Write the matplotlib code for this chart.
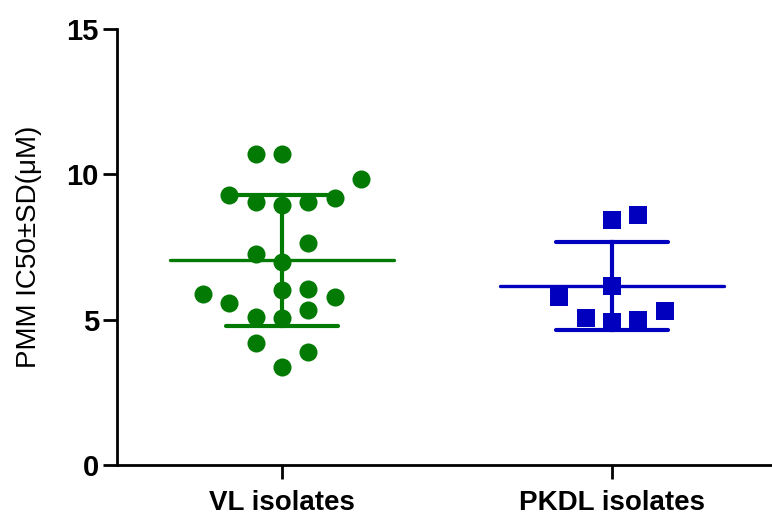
import numpy as np
import matplotlib.pyplot as plt

plt.rcParams['font.family'] = ['Liberation Sans', 'DejaVu Sans']

groups = ['VL isolates', 'PKDL isolates']
colors = ['#037A03', '#0000BE']

# PMM IC50 values, with the column slot each dot sits in
vl_vals = [10.70, 10.70, 9.83, 9.29, 9.06, 8.94, 9.06, 9.20, 7.63, 7.26, 6.99,
           6.02, 6.05, 5.87, 5.79, 5.56, 5.33, 5.10, 5.05, 4.19, 3.90, 3.38]
vl_slot = [-1, 0, 3, -2, -1, 0, 1, 2, 1, -1, 0,
           0, 1, -3, 2, -2, 1, -1, 0, -1, 1, 0]
pkdl_vals = [8.43, 8.60, 5.79, 6.16, 5.05, 4.93, 4.99, 5.31]
pkdl_slot = [0, 1, -2, 0, -1, 0, 1, 2]

slot_w = 0.08

fig = plt.figure(figsize=(7.72, 5.21), dpi=100)
ax = fig.add_axes([0.1516, 0.1075, 0.855, 0.837])

data = [(vl_vals, vl_slot, 'o'), (pkdl_vals, pkdl_slot, 's')]
for i, (vals, slots, mk) in enumerate(data):
    xc = i + 1
    vals = np.array(vals)
    xs = xc + np.array(slots) * slot_w
    ax.plot(xs, vals, mk, color=colors[i], markersize=13 if mk == 'o' else 12.5,
            markeredgewidth=0, zorder=3)
    m = vals.mean()
    sd = vals.std(ddof=1)
    ax.plot([xc - 0.34, xc + 0.34], [m, m], color=colors[i], lw=2.4,
            solid_capstyle='round', zorder=2)
    ax.plot([xc, xc], [m - sd, m + sd], color=colors[i], lw=3, zorder=2)
    for y in (m - sd, m + sd):
        ax.plot([xc - 0.17, xc + 0.17], [y, y], color=colors[i], lw=3,
                solid_capstyle='round', zorder=2)

ax.set_xlim(0.5, 2.5)
ax.set_ylim(0, 15)
ax.set_yticks([0, 5, 10, 15])
ax.set_xticks([1, 2])
ax.set_xticklabels(groups, fontsize=20, fontweight='bold')
for lab in ax.get_yticklabels():
    lab.set_fontsize(21)
    lab.set_fontweight('bold')
ax.set_ylabel('PMM IC50±SD(μM)', fontsize=20)
ax.yaxis.set_label_coords(-0.114, 0.5)

ax.spines['top'].set_visible(False)
ax.spines['right'].set_visible(False)
for s in ('left', 'bottom'):
    ax.spines[s].set_linewidth(2)
ax.tick_params(width=2, length=10, pad=3)
ax.tick_params(axis='x', pad=8)

fig.savefig('out.png', dpi=100)
